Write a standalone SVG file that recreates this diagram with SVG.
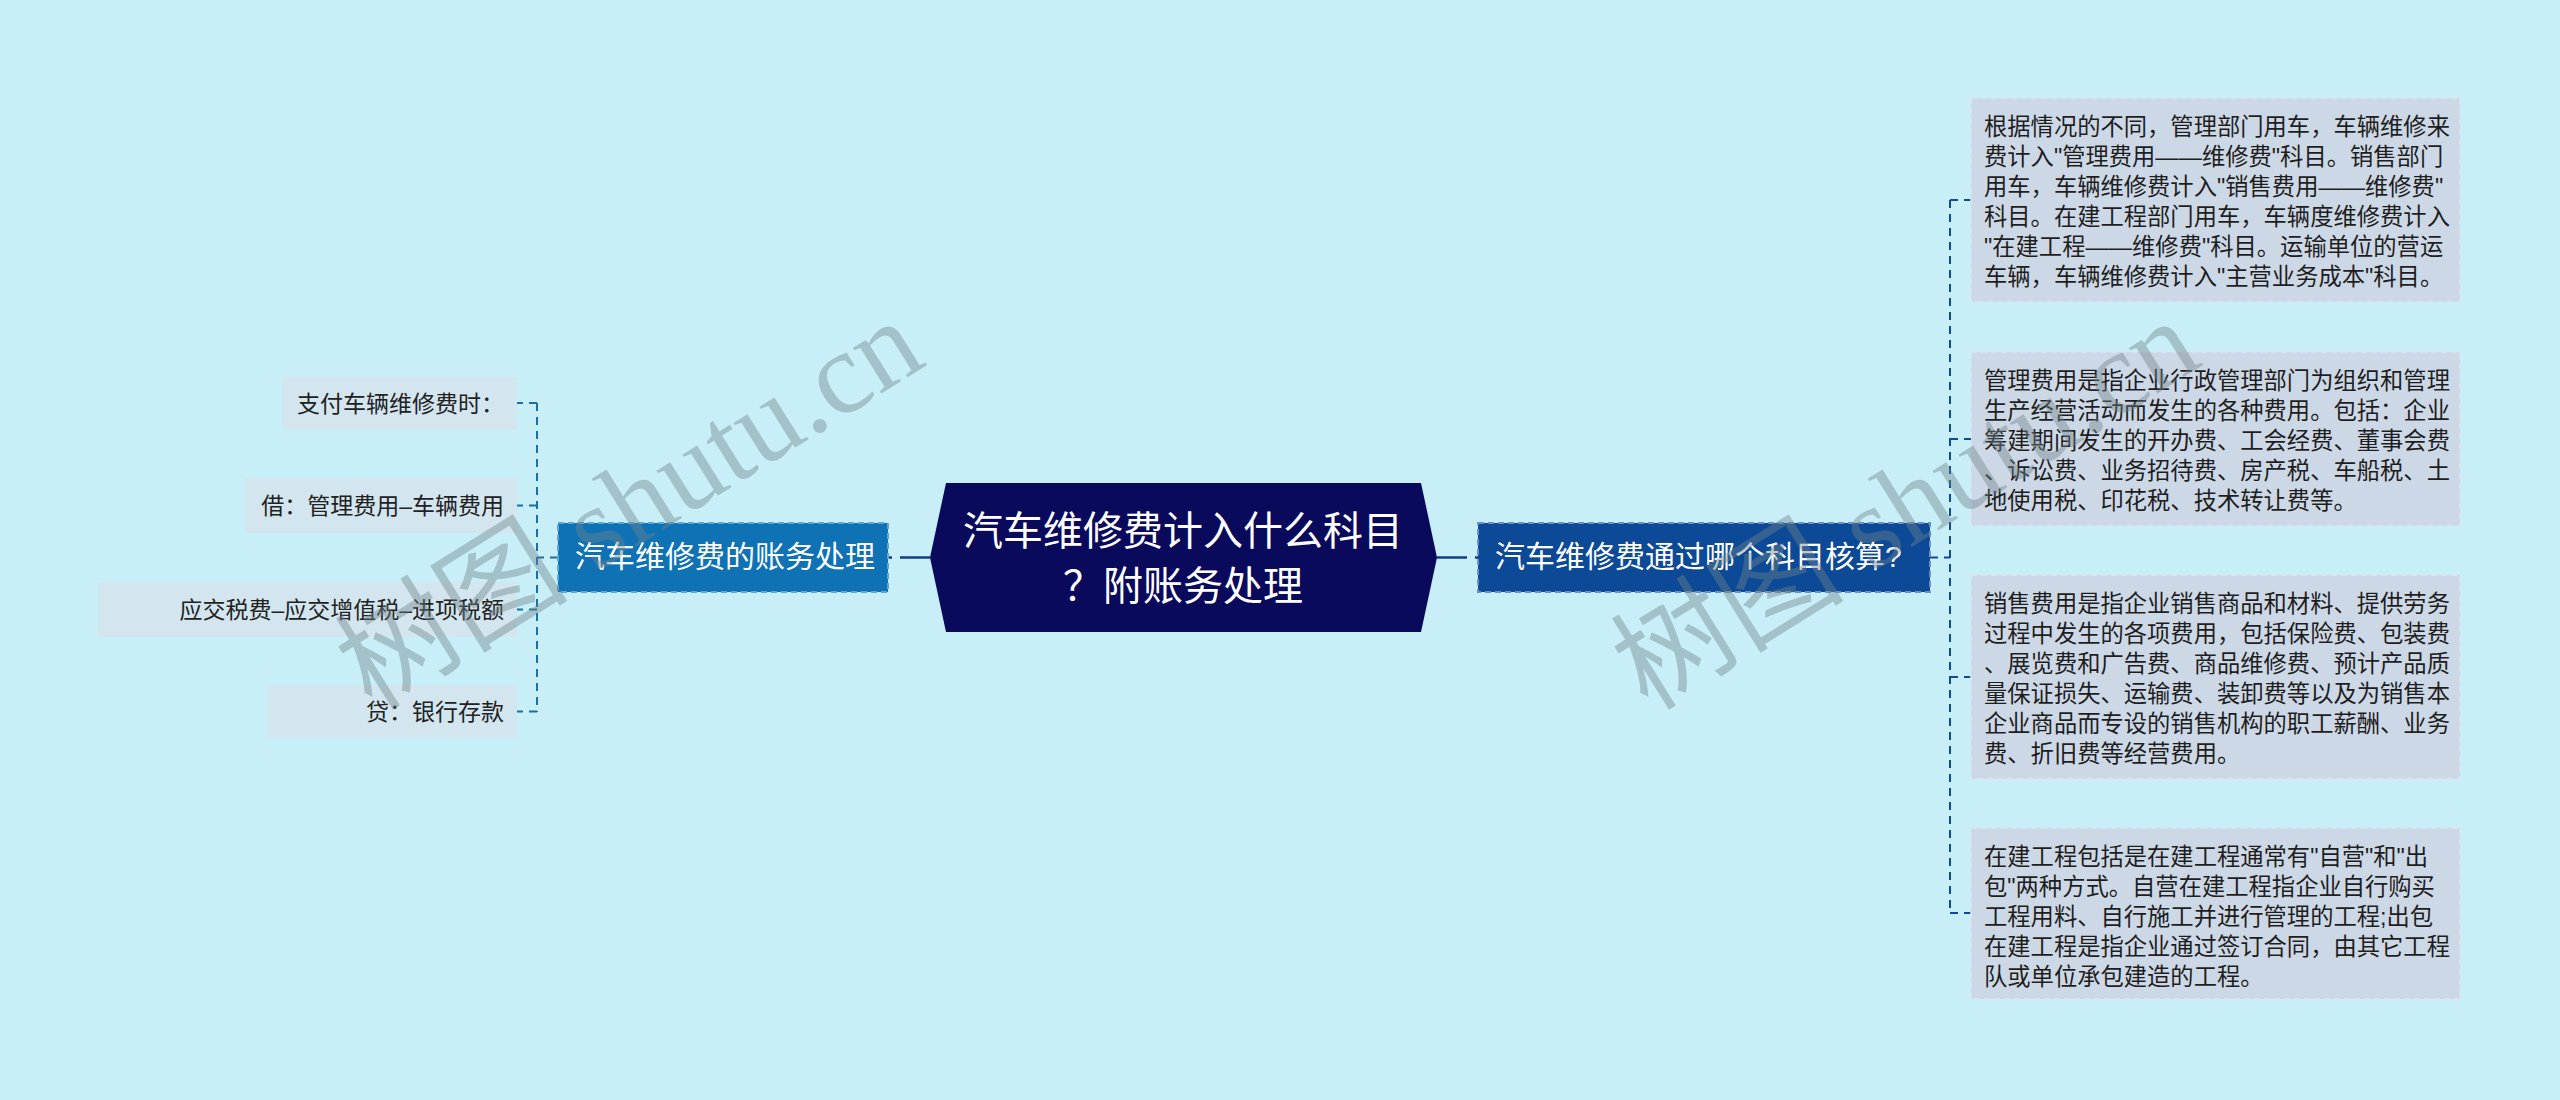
<svg xmlns="http://www.w3.org/2000/svg" width="2560" height="1100" viewBox="0 0 2560 1100">
<style>
text{font-family:"Liberation Sans","Noto Sans CJK SC",sans-serif}
.leaf{fill:#d3e6ef}
.leaft{font-size:23px;fill:#222;text-anchor:end}
.info{fill:#cdd8e6;stroke:#dde5ef;stroke-width:1.5;stroke-dasharray:6 4}
.infot{font-size:23.3px;fill:#1e1e1e}
.main{font-size:30px;fill:#fff}
.mc{stroke:#123e80;stroke-width:2.5;fill:none;stroke-dasharray:30 8}
.lc{stroke:#1b6fa3;stroke-width:2;fill:none;stroke-dasharray:8 6}
.rc{stroke:#0e4b94;stroke-width:2;fill:none;stroke-dasharray:8 6}
.wm{font-family:"Liberation Serif","Noto Sans CJK SC",serif;font-size:117px;fill:#6f8388;opacity:0.42}
</style>
<rect width="2560" height="1100" fill="#c8eff7"/>
<g id="connectors">
<path class="mc" d="M930,557.5 H888"/>
<path class="mc" d="M1437,557.5 H1478"/>
<path class="lc" d="M537,403 V712"/>
<path class="lc" d="M558,557.5 H537"/>
<path class="lc" d="M537,403 H517"/>
<path class="lc" d="M537,505.5 H517"/>
<path class="lc" d="M537,609.5 H517"/>
<path class="lc" d="M537,711.5 H517"/>
<path class="rc" d="M1950,200 V913"/>
<path class="rc" d="M1930,557.5 H1950"/>
<path class="rc" d="M1950,200 H1971"/>
<path class="rc" d="M1950,439 H1971"/>
<path class="rc" d="M1950,677 H1971"/>
<path class="rc" d="M1950,913 H1971"/>
</g>
<g id="center">
<polygon points="946,483 1421,483 1437,557.5 1421,632 946,632 930,557.5" fill="#0a0a5c"/>
<text x="1183" y="545" font-size="40" fill="#fff" text-anchor="middle">汽车维修费计入什么科目</text>
<text x="1183" y="600" font-size="40" fill="#fff" text-anchor="middle">？附账务处理</text>
</g>
<g id="left-main">
<rect x="558" y="523" width="330" height="69" fill="#0f72b5" stroke="#5aa7dc" stroke-width="2" stroke-dasharray="6 4"/>
<text class="main" x="575" y="567">汽车维修费的账务处理</text>
</g>
<g id="right-main">
<rect x="1478" y="523" width="452" height="69" fill="#0c4a97" stroke="#6b90c9" stroke-width="2" stroke-dasharray="6 4"/>
<text class="main" x="1495" y="567">汽车维修费通过哪个科目核算?</text>
</g>
<g id="leaf1">
<rect class="leaf" x="282" y="377" width="235" height="53"/>
<text class="leaft" x="504" y="411.5">支付车辆维修费时：</text>
</g>
<g id="leaf2">
<rect class="leaf" x="245" y="478" width="272" height="55"/>
<text class="leaft" x="504" y="513.5">借：管理费用–车辆费用</text>
</g>
<g id="leaf3">
<rect class="leaf" x="98" y="582" width="419" height="55"/>
<text class="leaft" x="504" y="617.5">应交税费–应交增值税–进项税额</text>
</g>
<g id="leaf4">
<rect class="leaf" x="267" y="685" width="250" height="53"/>
<text class="leaft" x="504" y="719.5">贷：银行存款</text>
</g>
<g id="info1">
<rect class="info" x="1971" y="98" width="489" height="204"/>
<text class="infot" x="1984" y="135">根据情况的不同，管理部门用车，车辆维修来</text>
<text class="infot" x="1984" y="165">费计入"管理费用——维修费"科目。销售部门</text>
<text class="infot" x="1984" y="195">用车，车辆维修费计入"销售费用——维修费"</text>
<text class="infot" x="1984" y="225">科目。在建工程部门用车，车辆度维修费计入</text>
<text class="infot" x="1984" y="255">"在建工程——维修费"科目。运输单位的营运</text>
<text class="infot" x="1984" y="285">车辆，车辆维修费计入"主营业务成本"科目。</text>
</g>
<g id="info2">
<rect class="info" x="1971" y="352" width="489" height="174"/>
<text class="infot" x="1984" y="389">管理费用是指企业行政管理部门为组织和管理</text>
<text class="infot" x="1984" y="419">生产经营活动而发生的各种费用。包括：企业</text>
<text class="infot" x="1984" y="449">筹建期间发生的开办费、工会经费、董事会费</text>
<text class="infot" x="1984" y="479">、诉讼费、业务招待费、房产税、车船税、土</text>
<text class="infot" x="1984" y="509">地使用税、印花税、技术转让费等。</text>
</g>
<g id="info3">
<rect class="info" x="1971" y="575" width="489" height="204"/>
<text class="infot" x="1984" y="612">销售费用是指企业销售商品和材料、提供劳务</text>
<text class="infot" x="1984" y="642">过程中发生的各项费用，包括保险费、包装费</text>
<text class="infot" x="1984" y="672">、展览费和广告费、商品维修费、预计产品质</text>
<text class="infot" x="1984" y="702">量保证损失、运输费、装卸费等以及为销售本</text>
<text class="infot" x="1984" y="732">企业商品而专设的销售机构的职工薪酬、业务</text>
<text class="infot" x="1984" y="762">费、折旧费等经营费用。</text>
</g>
<g id="info4">
<rect class="info" x="1971" y="828" width="489" height="171"/>
<text class="infot" x="1984" y="865">在建工程包括是在建工程通常有"自营"和"出</text>
<text class="infot" x="1984" y="895">包"两种方式。自营在建工程指企业自行购买</text>
<text class="infot" x="1984" y="925">工程用料、自行施工并进行管理的工程;出包</text>
<text class="infot" x="1984" y="955">在建工程是指企业通过签订合同，由其它工程</text>
<text class="infot" x="1984" y="985">队或单位承包建造的工程。</text>
</g>
<g id="watermark">
<text class="wm" transform="translate(372,712) rotate(-32)">树图 shutu.cn</text>
<text class="wm" transform="translate(1648,712) rotate(-32)">树图 shutu.cn</text>
</g>
</svg>
